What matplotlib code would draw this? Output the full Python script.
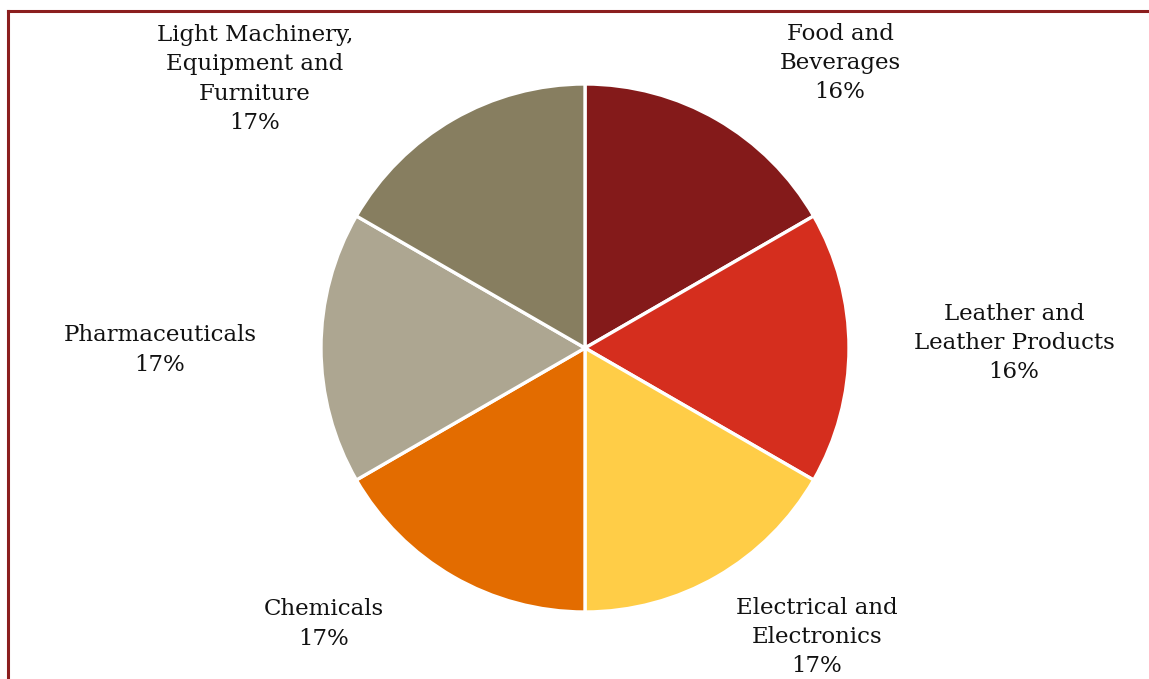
import matplotlib
matplotlib.use("Agg")
import matplotlib.pyplot as plt
from matplotlib.lines import Line2D

# Sector shares (equal-sized slices as drawn) and the printed percentages
sectors = ["Food and\nBeverages", "Leather and\nLeather Products", "Electrical and\nElectronics",
           "Chemicals", "Pharmaceuticals", "Light Machinery,\nEquipment and\nFurniture"]
shares = [16.67, 16.67, 16.67, 16.67, 16.67, 16.67]
pct_labels = ["16%", "16%", "17%", "17%", "17%", "17%"]
colors = ["#841A1A", "#D52E1E", "#FFCD47", "#E36C00", "#ADA691", "#877E60"]

# label centres in pixel coords (x, y from top)
label_pos = [(840, 63), (1014, 343), (817, 637), (324, 624), (160, 350), (255, 79)]

W, H = 1149, 679
fig = plt.figure(figsize=(W / 100, H / 100), dpi=100)
ax = fig.add_axes([0, 0, 1, 1])

ax.pie(shares, colors=colors, startangle=90, counterclock=False,
       radius=264, center=(585, H - 348), frame=True,
       wedgeprops=dict(edgecolor="white", linewidth=2.4))
ax.set_xlim(0, W)
ax.set_ylim(0, H)
ax.set_aspect("equal")
ax.axis("off")

for name, pct, (x, y) in zip(sectors, pct_labels, label_pos):
    ax.text(x, H - y, name + "\n" + pct, ha="center", va="center",
            fontsize=16.5, family="DejaVu Serif", color="#111111", linespacing=1.42)

# frame of the chart area (dark red)
border = "#8B1E1E"
ax.add_line(Line2D([8, W + 5], [H - 11, H - 11], color=border, lw=2.2))
ax.add_line(Line2D([8, 8], [-5, H - 11], color=border, lw=2.2))

fig.savefig("out.png", dpi=100)
